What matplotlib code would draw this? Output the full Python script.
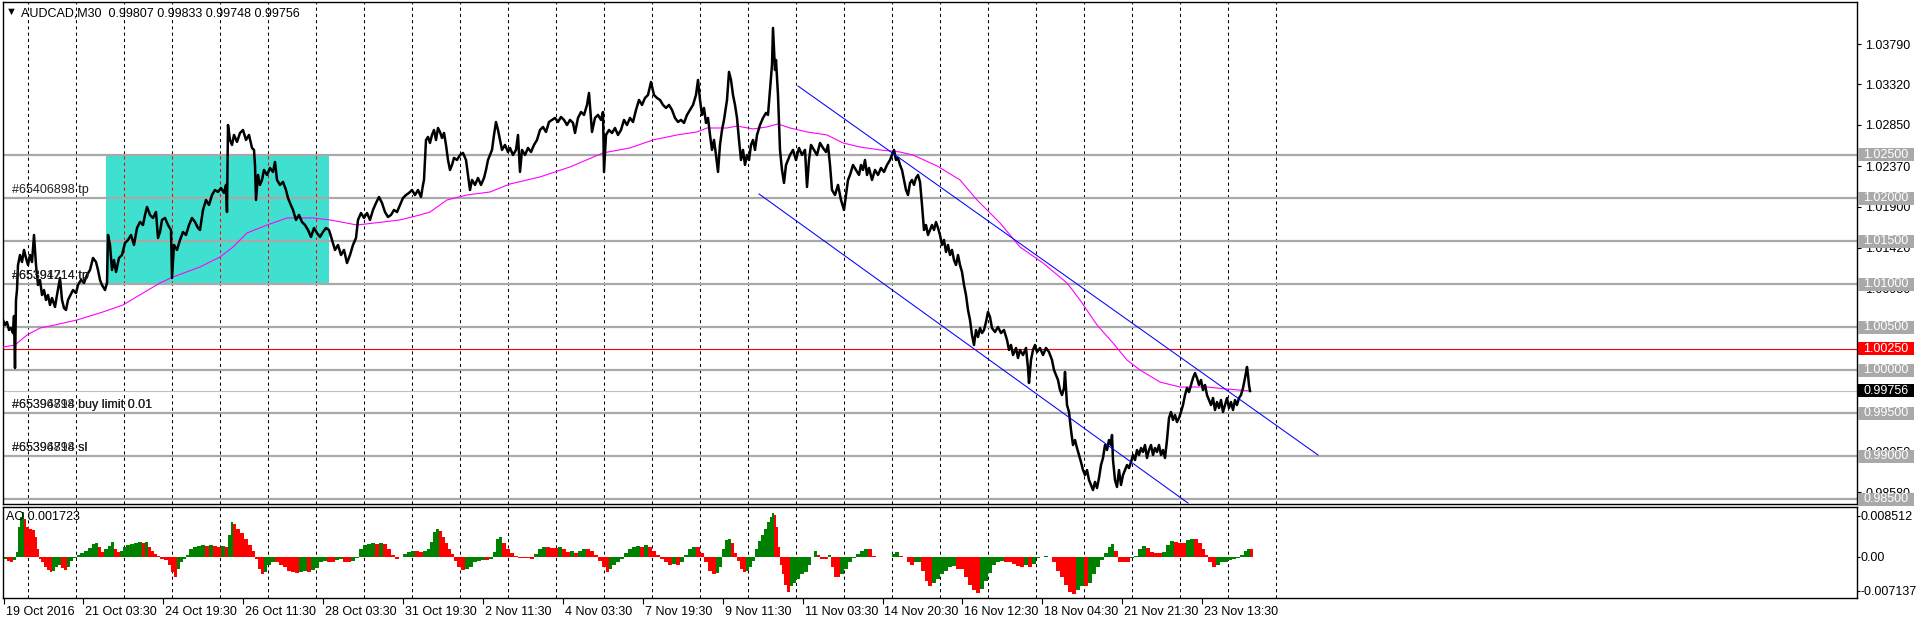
import matplotlib
matplotlib.use("Agg")
import matplotlib.pyplot as plt
import matplotlib.transforms as mtransforms
from matplotlib.patches import Rectangle
import numpy as np

plt.rcParams["font.family"] = ["Liberation Sans", "DejaVu Sans"]

SYMBOL = "AUDCAD,M30"
LAST_OHLC = ["0.99807", "0.99833", "0.99748", "0.99756"]

# price samples: bar index (M30) and price
price_bar = [
    3, 5, 7, 9, 11, 13, 14, 15, 16, 17, 18, 20, 22, 24, 26, 28, 30, 32, 34, 36,
    38, 40, 42, 44, 46, 48, 50, 52, 55, 57, 60, 62, 64, 66, 68, 70, 73, 76, 78, 81,
    84, 87, 90, 93, 96, 98, 100, 102, 105, 107, 108, 110, 112, 114, 116, 119, 122, 125, 128, 131,
    134, 137, 140, 143, 145, 147, 150, 153, 156, 158, 160, 162, 165, 168, 171, 172, 174, 177, 180, 183,
    186, 189, 192, 195, 198, 200, 203, 206, 209, 212, 215, 218, 221, 224, 226, 227, 228, 230, 232, 234,
    237, 240, 243, 246, 249, 252, 254, 255, 256, 258, 260, 262, 264, 267, 270, 273, 275, 277, 280, 283,
    286, 288, 290, 293, 296, 299, 302, 305, 308, 311, 314, 317, 320, 323, 326, 329, 332, 335, 338, 341,
    344, 347, 350, 353, 356, 358, 361, 364, 367, 370, 373, 376, 379, 382, 385, 388, 391, 394, 397, 400,
    403, 406, 409, 412, 415, 418, 421, 423, 424, 426, 428, 430,
    432, 434, 436, 438, 440, 442, 444, 446, 448, 450, 452, 454, 457, 460, 463, 466, 468, 470, 472, 475,
    478, 481, 484, 486, 488, 490, 492, 494, 496, 498, 500, 502, 505, 508, 510, 513, 516, 518, 520, 522,
    525, 528, 531, 534, 537, 540, 543, 546, 549, 552, 555, 558, 561, 564, 567, 570, 573, 575, 578, 581,
    584, 587, 589, 591, 592, 595, 598, 601, 603, 604, 606, 609, 612, 615, 618, 621, 624, 627, 630, 633,
    636, 639, 642, 645, 648, 651, 654, 657, 660, 663, 666, 669, 672, 675, 678, 681, 684, 687, 690, 693,
    696, 698, 700, 702, 704, 706, 708, 710, 712, 714, 716, 718, 720, 722, 724, 727, 729, 731, 733, 735,
    737, 739, 741, 743, 745, 747, 749, 751, 753, 755, 757, 760, 763, 766, 768, 770, 772, 773, 775, 776,
    778, 780, 782, 784, 786, 788, 790, 793, 796, 799, 802, 805, 807, 809, 811, 814, 817, 820, 823, 826,
    828, 830, 832, 835, 838, 841, 844, 846, 848, 850, 853, 856, 859,
    861, 863, 865, 867, 869, 872, 875, 878, 881, 884, 887, 890, 892, 894, 896, 898, 900, 902, 904, 906,
    908, 910, 912, 914, 916, 918, 920, 922, 924, 926, 928, 930, 932, 934, 936, 938, 940, 942, 944, 946,
    948, 950, 952, 954, 956, 958, 960, 962, 964, 966, 968, 970, 972, 974, 976, 978, 980, 982, 984, 986,
    988, 990, 992, 995, 998, 1001, 1004, 1007, 1009, 1011, 1013, 1016, 1018, 1020, 1023, 1026, 1028, 1029, 1031, 1033,
    1035, 1037, 1040, 1043, 1046, 1049, 1052, 1054, 1056, 1058, 1060, 1062, 1064, 1065, 1067, 1069, 1071, 1073, 1075, 1077,
    1079, 1081, 1083, 1085, 1087, 1089, 1091, 1093, 1095, 1097, 1099, 1101, 1103, 1105, 1107, 1109, 1111, 1112, 1113, 1115,
    1117, 1119, 1121, 1123, 1125, 1127, 1129, 1131, 1133, 1135, 1137, 1139, 1141, 1143, 1145, 1147, 1149, 1151, 1153, 1155,
    1157, 1159, 1161, 1163, 1165, 1167, 1169, 1171, 1173, 1175, 1177, 1179, 1181, 1183, 1185, 1187, 1189, 1191, 1193, 1195,
    1197, 1199, 1201, 1203, 1205, 1207, 1209, 1211, 1213, 1215, 1217, 1219, 1221, 1223, 1225, 1227, 1229, 1231, 1233, 1235,
    1237, 1239, 1241, 1243, 1245, 1247, 1248, 1249, 1250,
]
price_close = [
    1.00582, 1.00524, 1.00558, 1.00465, 1.00488, 1.00430, 1.00628, 1.00023, 1.00814, 1.00930,
    1.01221, 1.01337, 1.01256, 1.01396, 1.01303, 1.01221, 1.01337, 1.01256, 1.01570, 1.01221,
    1.00989, 1.01047, 1.00872, 1.00930, 1.00814, 1.00872, 1.00756, 1.00837, 1.00733, 1.00872,
    1.01070, 1.00814, 1.00721, 1.00698, 1.00814, 1.00861, 1.00930, 1.00895, 1.00989, 1.01047,
    1.01012, 1.01105, 1.01163, 1.01303, 1.01256, 1.01163, 1.01047, 1.00989, 1.00930, 1.01012,
    1.01570, 1.01454, 1.01163, 1.01279, 1.01140, 1.01303, 1.01337, 1.01477, 1.01512, 1.01570,
    1.01454, 1.01651, 1.01721, 1.01686, 1.01803, 1.01896, 1.01803, 1.01768, 1.01837, 1.01535,
    1.01605, 1.01745, 1.01768, 1.01686, 1.01628, 1.01070, 1.01454, 1.01396, 1.01512, 1.01605,
    1.01570, 1.01686, 1.01768, 1.01721, 1.01651, 1.01628, 1.01861, 1.01977, 1.01919, 1.02035,
    1.02093, 1.02070, 1.02117, 1.02059, 1.02152, 1.01837, 1.02849, 1.02675, 1.02617, 1.02733,
    1.02652, 1.02756, 1.02791, 1.02675, 1.02733, 1.02582, 1.02559, 1.02384, 1.01977, 1.02268,
    1.02152, 1.02210, 1.02326, 1.02268, 1.02349, 1.02303, 1.02419, 1.02210, 1.02152, 1.02187,
    1.02093, 1.02000, 1.01942, 1.01861, 1.01745, 1.01803, 1.01721, 1.01686, 1.01628, 1.01547,
    1.01651, 1.01593, 1.01547, 1.01605, 1.01651, 1.01628, 1.01512, 1.01396, 1.01454, 1.01337,
    1.01396, 1.01244, 1.01337, 1.01454, 1.01535, 1.01745, 1.01826, 1.01768, 1.01826, 1.01745,
    1.01861, 1.01942, 1.02012, 1.01942, 1.01837, 1.01779, 1.01803, 1.01861, 1.01837, 1.01919,
    1.02000, 1.02035, 1.02059, 1.02093, 1.02035, 1.02093, 1.02012, 1.02152, 1.02210, 1.02675,
    1.02710, 1.02640,
    1.02733, 1.02791, 1.02675, 1.02814, 1.02768, 1.02698, 1.02756, 1.02617, 1.02442, 1.02326,
    1.02384, 1.02466, 1.02442, 1.02500, 1.02524, 1.02442, 1.02268, 1.02093, 1.02210, 1.02152,
    1.02233, 1.02152, 1.02233, 1.02326, 1.02442, 1.02500, 1.02559, 1.02733, 1.02884, 1.02791,
    1.02675, 1.02559, 1.02617, 1.02535, 1.02582, 1.02500, 1.02559, 1.02733, 1.02303, 1.02559,
    1.02500, 1.02582, 1.02535, 1.02617, 1.02675, 1.02791, 1.02826, 1.02768, 1.02884, 1.02908,
    1.02931, 1.02884, 1.02942, 1.02908, 1.02849, 1.02908, 1.02873, 1.02756, 1.02931, 1.03000,
    1.02966, 1.03082, 1.03221, 1.02908, 1.02768, 1.02931, 1.02966, 1.02908, 1.03000, 1.02303,
    1.02733, 1.02791, 1.02756, 1.02814, 1.02733, 1.02791, 1.02908, 1.02849, 1.02931, 1.02884,
    1.03024, 1.03140, 1.03082, 1.03163, 1.03198, 1.03349, 1.03198, 1.03163, 1.03140, 1.03082,
    1.03047, 1.03082, 1.03024, 1.02931, 1.02884, 1.02908, 1.02873, 1.02966, 1.03024, 1.03082,
    1.03198, 1.03373, 1.03140, 1.02966, 1.03047, 1.02873, 1.02931, 1.02733, 1.02559, 1.02675,
    1.02500, 1.02303, 1.02617, 1.02791, 1.02908, 1.03140, 1.03466, 1.03373, 1.03198, 1.03082,
    1.02931, 1.02675, 1.02442, 1.02559, 1.02384, 1.02500, 1.02442, 1.02617, 1.02675, 1.02559,
    1.02733, 1.02849, 1.02931, 1.02989, 1.02966, 1.03256, 1.03547, 1.03977, 1.03489, 1.03605,
    1.03198, 1.02559, 1.02326, 1.02175, 1.02384, 1.02442, 1.02500, 1.02559, 1.02442, 1.02582,
    1.02500, 1.02559, 1.02128, 1.02442, 1.02617, 1.02559, 1.02500, 1.02640, 1.02582, 1.02535,
    1.02617, 1.02384, 1.02093, 1.02035, 1.02152, 1.01977, 1.01861, 1.02035, 1.02210, 1.02268,
    1.02384, 1.02326, 1.02268,
    1.02384, 1.02326, 1.02442, 1.02268, 1.02349, 1.02210, 1.02326, 1.02268, 1.02349, 1.02303,
    1.02384, 1.02442, 1.02500, 1.02559, 1.02442, 1.02466, 1.02384, 1.02326, 1.02210, 1.02093,
    1.02035, 1.02175, 1.02210, 1.02152, 1.02233, 1.02268, 1.02187, 1.01919, 1.01628, 1.01686,
    1.01570, 1.01628, 1.01686, 1.01628, 1.01721, 1.01651, 1.01570, 1.01454, 1.01512, 1.01372,
    1.01454, 1.01337, 1.01396, 1.01279, 1.01221, 1.01337, 1.01221, 1.01140, 1.00989, 1.00872,
    1.00698, 1.00582, 1.00407, 1.00291, 1.00465, 1.00384, 1.00488, 1.00430, 1.00465, 1.00558,
    1.00675, 1.00616, 1.00488, 1.00442, 1.00500, 1.00430, 1.00465, 1.00349, 1.00233, 1.00291,
    1.00174, 1.00256, 1.00140, 1.00233, 1.00174, 1.00256, 1.00023, 0.99849, 1.00116, 1.00233,
    1.00291, 1.00209, 1.00256, 1.00174, 1.00256, 1.00209, 1.00116, 1.00000, 0.99942, 0.99884,
    0.99767, 0.99709, 0.99791, 0.99977, 0.99593, 0.99512, 0.99302, 0.99128, 0.99186, 0.99093,
    0.99012, 0.98930, 0.98837, 0.98779, 0.98837, 0.98721, 0.98663, 0.98604, 0.98698, 0.98628,
    0.98744, 0.98895, 0.98977, 0.99128, 0.99070, 0.99186, 0.99128, 0.99244, 0.98953, 0.98721,
    0.98640, 0.98837, 0.98663, 0.98779, 0.98837, 0.98895, 0.98860, 0.98930, 0.99012, 0.98953,
    0.99070, 0.99012, 0.99093, 0.99047, 0.99128, 0.98977, 0.99070, 0.99128, 0.99012, 0.99093,
    0.99047, 0.99128, 0.99012, 0.99070, 0.98977, 0.99186, 0.99442, 0.99512, 0.99419, 0.99477,
    0.99395, 0.99442, 0.99512, 0.99593, 0.99709, 0.99791, 0.99744, 0.99826, 0.99907, 0.99965,
    0.99907, 0.99826, 0.99884, 0.99767, 0.99826, 0.99709, 0.99651, 0.99593, 0.99674, 0.99535,
    0.99628, 0.99558, 0.99651, 0.99512, 0.99593, 0.99674, 0.99558, 0.99628, 0.99535, 0.99651,
    0.99593, 0.99674, 0.99709, 0.99791, 0.99907, 1.00035, 0.99942, 0.99826, 0.99756,
]

# moving average (magenta)
ma_bar = [3, 15, 27, 40, 55, 77, 103, 123, 143, 160, 173, 200, 220, 233, 247, 267, 287, 313, 330, 357,
          383, 400, 420, 430, 447, 467, 490, 510, 540, 570, 603, 630, 653, 677, 697, 707, 727, 737, 753, 767,
          778, 790, 807, 827, 843, 860, 880, 900, 913, 937, 960, 977, 1000, 1020, 1043, 1067, 1080, 1097, 1113, 1127,
          1140, 1160, 1180, 1207, 1227, 1250]
ma_value = [1.00267, 1.00291, 1.00407, 1.00488, 1.00524, 1.00582, 1.00675, 1.00756, 1.00895, 1.01012,
            1.01082, 1.01198, 1.01314, 1.01430, 1.01593, 1.01686, 1.01768, 1.01768, 1.01745, 1.01686,
            1.01721, 1.01745, 1.01803, 1.01837, 1.01977, 1.02035, 1.02070, 1.02163, 1.02245, 1.02361,
            1.02524, 1.02582, 1.02675, 1.02733, 1.02768, 1.02814, 1.02814, 1.02837, 1.02803, 1.02826,
            1.02861, 1.02814, 1.02768, 1.02733, 1.02640, 1.02593, 1.02559, 1.02535, 1.02500, 1.02373,
            1.02210, 1.01977, 1.01710, 1.01430, 1.01244, 1.01012, 1.00814, 1.00524, 1.00314, 1.00116,
            1.00000, 0.99860, 0.99802, 0.99802, 0.99779, 0.99756]

# Awesome Oscillator, in units of 1e-4
ao_bar = [4, 7, 10, 13, 16, 18, 20, 22, 24, 26, 29, 32, 35, 37, 39, 41, 44, 47, 50, 52,
          55, 58, 61, 64, 67, 70, 73, 77, 80, 84, 88, 92, 95, 98, 101, 104, 108, 111, 114, 117,
          120, 123, 126, 130, 134, 138, 142, 145, 148, 151, 154, 157, 160, 164, 168, 171, 174, 177, 180, 183,
          186, 189, 193, 197, 201, 205, 209, 213, 217, 221, 225, 228, 231, 233, 236, 240, 244, 248, 252, 255,
          258, 261, 264, 267, 271, 275, 279, 283, 287, 291, 295, 299, 303, 307, 311, 315, 319, 323, 327, 331,
          335, 339, 343, 347, 351, 355, 359, 363, 367, 371, 375, 379, 383, 387, 391, 395, 399, 403, 407, 411,
          415, 419, 423, 427, 430, 433, 436, 439, 442, 445, 448, 451, 454, 457, 461, 465, 469, 473, 477, 481,
          485, 489, 493, 496, 499, 502, 506, 510, 514, 518, 522, 526, 530, 534, 538, 542, 546, 550, 554, 558,
          562, 566, 570, 574, 578, 582, 586, 590, 594, 598, 602, 606, 609, 612, 616, 620, 624, 628, 632, 636,
          640, 644, 648, 652, 656, 660, 664, 668, 672, 676, 680, 684, 688, 692, 696, 700, 704, 708, 712, 716,
          719, 722, 725, 728, 731, 734, 737, 740, 743, 746, 749, 752, 755, 758, 761, 764, 767, 770, 772, 774,
          776, 778, 780, 782, 784, 787, 790, 793, 796, 800, 804, 808, 811, 814, 817, 820, 824, 828, 831, 834,
          837, 840, 844, 848, 852, 856, 860, 864, 868, 872, 876, 880, 884, 888, 892, 895, 899, 903, 907, 910,
          914, 918, 921, 925, 928, 932, 936, 940, 944, 948, 952, 956, 960, 964, 968, 972, 976, 980, 984, 988,
          992, 996, 1000, 1004, 1008, 1012, 1016, 1020, 1024, 1028, 1032, 1036, 1040, 1044, 1048, 1052, 1056, 1060, 1064, 1068,
          1072, 1076, 1080, 1084, 1088, 1092, 1096, 1100, 1104, 1108, 1111, 1114, 1118, 1122, 1126, 1130, 1134, 1138, 1142, 1146,
          1150, 1154, 1158, 1162, 1166, 1170, 1174, 1178, 1182, 1186, 1190, 1194, 1198, 1202, 1205, 1208, 1212, 1216, 1220, 1224,
          1228, 1232, 1236, 1240, 1244, 1247, 1250]
ao_e4 = [-4, -8, -12, -6, 10, 62, 83, 94, 79, 62, 58, 56, 42, 17, -4, -12, -21, -27, -31, -29,
         -21, -17, -23, -27, -21, -8, -2, 4, 8, 12, 19, 27, 29, 21, 10, 17, 23, 31, 17, 10,
         12, 21, 25, 27, 29, 31, 29, 31, 21, 12, 6, 2, -4, -6, -17, -31, -42, -25, -10, -4,
         4, 17, 21, 23, 25, 23, 25, 23, 21, 23, 21, 46, 73, 69, 58, 50, 37, 25, 12, -4,
         -25, -37, -31, -17, -10, -12, -17, -21, -29, -31, -33, -31, -29, -31, -27, -23, -12, -8, -10, -12,
         -6, -4, -10, -12, -8, -2, 17, 25, 27, 29, 27, 29, 27, 17, 4, -4, 0, 6, 10, 12,
         12, 10, 12, 15, 31, 52, 58, 54, 42, 29, 17, 6, -8, -21, -27, -25, -21, -12, -8, -6,
         -6, -4, 10, 37, 42, 29, 17, 8, 2, -2, -2, -2, -4, 6, 17, 21, 21, 19, 19, 21,
         15, 10, 12, 8, 12, 17, 17, 12, 4, -8, -21, -31, -25, -17, -12, -4, 8, 17, 21, 23,
         21, 25, 21, 12, 4, -4, -10, -17, -15, -17, -10, 4, 17, 21, 21, 8, -12, -29, -37, -33,
         -21, 17, 35, 37, 29, 8, -8, -25, -31, -29, -21, -8, 17, 33, 46, 58, 73, 83, 92, 87,
         62, 21, -17, -37, -58, -73, -62, -54, -46, -37, -31, -17, 0, 12, 4, -4, -4, 4, -21, -42,
         -42, -35, -25, -12, -2, 6, 12, 17, 15, 2, 0, 0, 0, 0, 6, 10, 2, 0, -12, -17,
         -12, -10, -29, -50, -60, -54, -46, -35, -29, -21, -19, -25, -25, -42, -58, -69, -75, -67, -50, -33,
         -17, -10, -8, -10, -10, -15, -19, -21, -17, -21, -15, -2, 0, 2, 0, -12, -29, -42, -58, -73,
         -77, -69, -62, -62, -54, -37, -21, -6, 8, 21, 27, 12, -10, -12, -12, -2, 2, 17, 23, 19,
         10, 8, 8, 10, 25, 33, 31, 29, 29, 35, 37, 37, 29, 17, 4, -10, -21, -17, -12, -10,
         -6, -4, -2, 4, 12, 17, 17]

# horizontal levels drawn on the chart
level_lines = [1.025, 1.020, 1.015, 1.010, 1.005, 1.000, 0.995, 0.990, 0.985]
alert_level = 1.0025
bid_price = 0.99756

order_notes = [
    (["#65406898 tp"], 1.020),
    (["#65394714 tp", "#65391214 tp"], 1.010),
    (["#65396898 buy limit 0.01", "#65394714 buy limit 0.01"], 0.995),
    (["#65396898 sl", "#65394714 sl"], 0.990),
]

# trend channel anchors (bar, price)
upper_bar, upper_price = [798, 1318], [1.03302, 0.99012]
lower_bar, lower_price = [759, 1188], [1.02047, 0.98453]

# rectangle object
box_bars = [106, 329]
box_prices = [1.010, 1.025]

price_ticks = [1.03790, 1.03320, 1.02850, 1.02370, 1.01900, 1.01420,
               1.00950, 1.00470, 1.00000, 0.99520, 0.99050, 0.98580]
ao_ticks = [0.008512, 0.0, -0.007137]
ao_tick_labels = ["0.008512", "0.00", "-0.007137"]

time_labels = ["19 Oct 2016", "21 Oct 03:30", "24 Oct 19:30", "26 Oct 11:30",
               "28 Oct 03:30", "31 Oct 19:30", "2 Nov 11:30", "4 Nov 03:30",
               "7 Nov 19:30", "9 Nov 11:30", "11 Nov 03:30", "14 Nov 20:30",
               "16 Nov 12:30", "18 Nov 04:30", "21 Nov 21:30", "23 Nov 13:30"]

W, H = 1916, 622
FS = 9.0
GRAY = "#a9a9a9"

fig = plt.figure(figsize=(W / 100, H / 100), dpi=100)
ax = fig.add_axes([3 / W, (H - 504) / H, 1854 / W, 502 / H])
ao = fig.add_axes([3 / W, (H - 598) / H, 1854 / W, 91 / H])

for a in (ax, ao):
    a.set_xlim(3, 1857)
    for s in a.spines.values():
        s.set_linewidth(1.0)
        s.set_color("black")
ax.set_ylim(0.98442, 1.04279)
ao.set_ylim(-0.0086, 0.01035)

# day separators every 48 bars
day_bars = 28 + 48 * np.arange(27)
dash = (0, (3, 3))
for a in (ax, ao):
    a.vlines(day_bars, 0, 1, transform=a.get_xaxis_transform(), colors="black",
             linestyles=dash, lw=0.75, zorder=1)

ax.add_patch(Rectangle((box_bars[0], box_prices[0]), box_bars[1] - box_bars[0],
                       box_prices[1] - box_prices[0], facecolor="#40e0d0",
                       edgecolor="none", zorder=1.2))
inside = day_bars[(day_bars > box_bars[0]) & (day_bars < box_bars[1])]
ax.vlines(inside, box_prices[0], box_prices[1], colors="red", linestyles=dash,
          lw=0.75, zorder=1.3)

for lv in level_lines:
    ax.axhline(lv, color=GRAY, lw=1.6, zorder=2)
ax.axhline(alert_level, color="red", lw=0.8, zorder=2)
ax.axhline(bid_price, color="#c0c0c0", lw=0.8, zorder=2)

ax.plot(ma_bar, ma_value, color="#ff00ff", lw=0.8, zorder=3)
ax.plot(price_bar, price_close, color="black", lw=1.8, zorder=4)
ax.plot(upper_bar, upper_price, color="#0000ff", lw=0.75, zorder=4.5)
ax.plot(lower_bar, lower_price, color="#0000ff", lw=0.75, zorder=4.5)

for texts, lv in order_notes:
    for t in texts:
        ax.annotate(t, xy=(12, lv), xytext=(0, 2), textcoords="offset pixels",
                    va="bottom", ha="left", fontsize=FS, color="#222222", zorder=5)

# price scale on the right
ax.yaxis.tick_right()
ax.set_yticks(price_ticks)
ax.set_yticklabels([f"{v:.5f}" for v in price_ticks])
ax.tick_params(axis="y", length=3, width=0.8, pad=3, labelsize=FS)
ax.set_xticks([])

blend = mtransforms.blended_transform_factory(ax.transAxes, ax.transData)
px_x = 1 / 1854
px_y = (1.04279 - 0.98442) / 502
tags = [(lv, GRAY) for lv in level_lines] + [(alert_level, "red"), (bid_price, "black")]
for lv, col in tags:
    ax.add_patch(Rectangle((1 + 1 * px_x, lv - 6.5 * px_y), 56 * px_x, 13 * px_y,
                           transform=blend, facecolor=col, edgecolor="none",
                           clip_on=False, zorder=6))
    ax.text(1 + 6 * px_x, lv, f"{lv:.5f}", transform=blend, va="center", ha="left",
            fontsize=FS, color="white", clip_on=False, zorder=7)

ao.bar(ao_bar, np.array(ao_e4) * 1e-4,
       width=np.diff(ao_bar, append=ao_bar[-1] + 3) + 0.3, align="edge",
       color=["#008000" if i == 0 or ao_e4[i] > ao_e4[i - 1] else "#ff0000"
              for i in range(len(ao_e4))], linewidth=0, zorder=2)
ao.yaxis.tick_right()
ao.set_yticks(ao_ticks)
ao.set_yticklabels(ao_tick_labels)
ao.tick_params(axis="y", length=2, width=0.8, pad=0.5, labelsize=FS)

label_bars = 3.6 + 79.9 * np.arange(len(time_labels))
ao.set_xticks(label_bars)
ao.set_xticklabels(time_labels, ha="left")
ao.tick_params(axis="x", length=4, width=0.8, pad=2, labelsize=FS)
for lbl in ao.get_xticklabels():
    lbl.set_transform(lbl.get_transform() + mtransforms.ScaledTranslation(2 / 100, 0, fig.dpi_scale_trans))

fig.text(6 / W, 1 - 12 / H, "\u25bc", fontsize=8, va="center", ha="left")
fig.text(21 / W, 1 - 13 / H, f"{SYMBOL}  " + " ".join(LAST_OHLC), fontsize=FS,
         va="center", ha="left")
fig.text(6 / W, 1 - 517 / H, "AO 0.001723", fontsize=FS, va="center", ha="left")

fig.savefig("out.png", dpi=100)
